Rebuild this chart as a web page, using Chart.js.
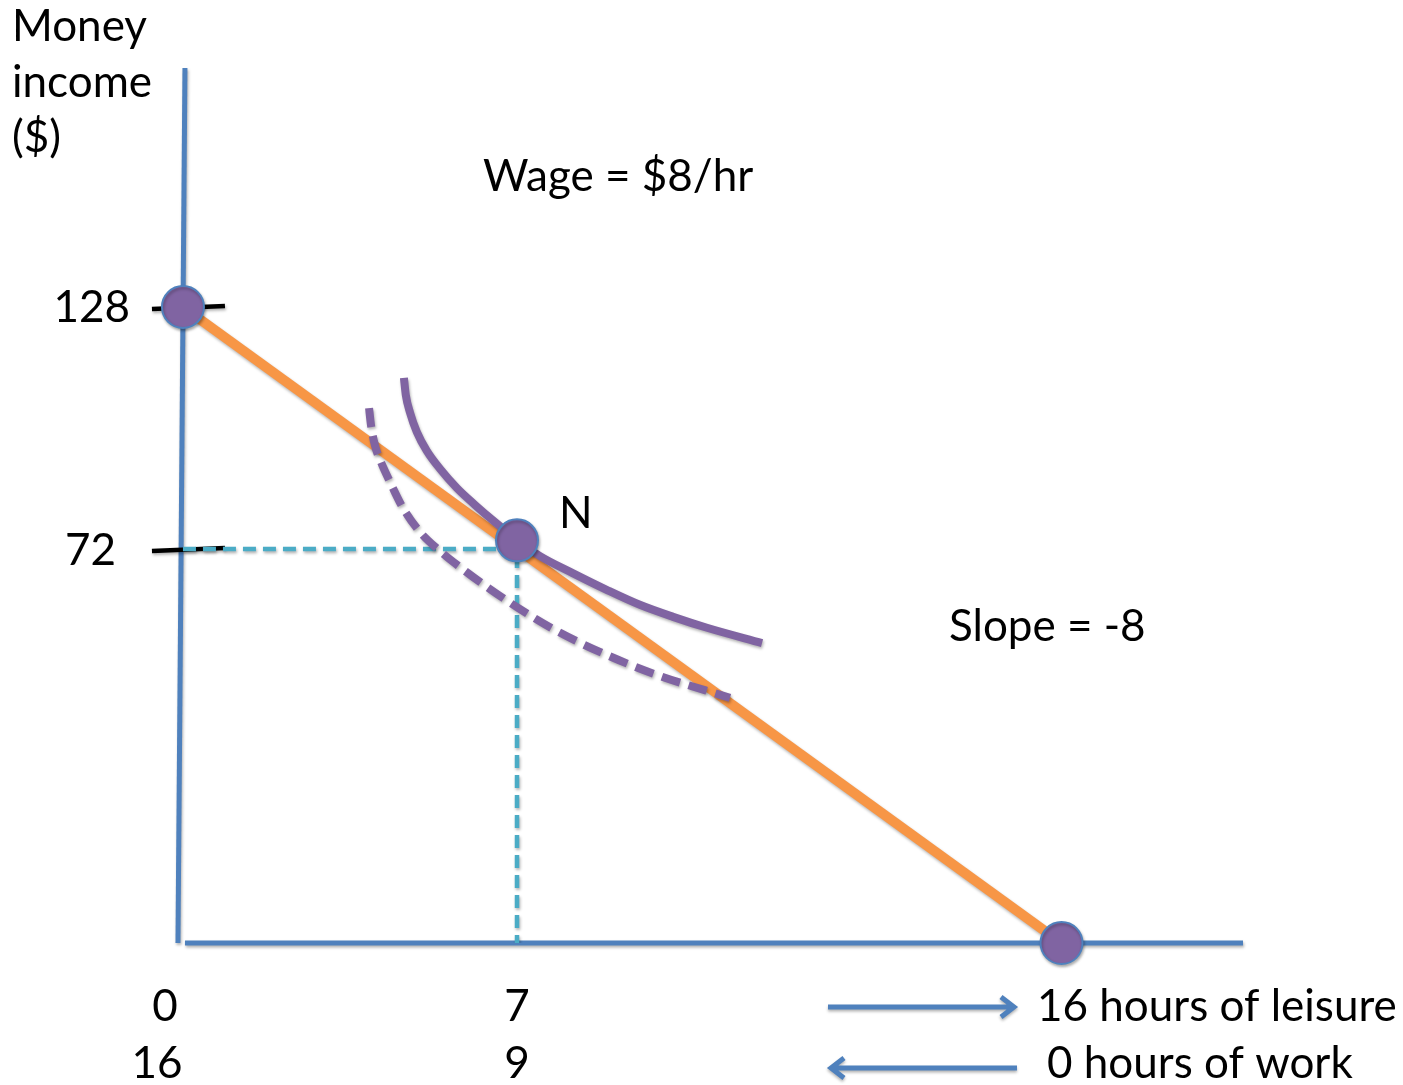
<!DOCTYPE html>
<html>
<head>
<meta charset="utf-8">
<script src="https://cdn.jsdelivr.net/npm/chart.js@4.4.1/dist/chart.umd.min.js"></script>
<style>
  html, body { margin: 0; padding: 0; background: #fff; }
  #wrap { width: 1403px; height: 1085px; position: relative; }
</style>
</head>
<body>
<div id="wrap"><canvas id="chart"></canvas></div>
<script>
// x = hours of leisure, y = money income ($)
const budgetLeisure = [0, 16];
const budgetIncome = [128, 0];

const dotLeisure = [0, 7, 16];
const dotIncome = [128, 74, 0];

const optimumLeisure = 7;
const optimumIncome = 72;

const highCurveLeisure = [4.63, 4.67, 4.76, 4.90, 5.11, 5.39, 5.74, 6.12, 6.54, 7.00, 7.38, 7.92, 8.49, 9.03, 9.58, 10.14, 11.05];
const highCurveIncome = [111.6, 107.6, 103.5, 99.1, 94.7, 90.5, 86.1, 82.2, 78.2, 74.1, 70.7, 67.6, 64.5, 61.8, 59.6, 57.6, 54.8];

const lowCurveLeisure = [3.90, 3.94, 4.02, 4.15, 4.34, 4.61, 4.97, 5.39, 5.91, 6.43, 7.05, 7.66, 8.49, 9.31, 10.52];
const lowCurveIncome = [104.6, 100.7, 96.1, 92.1, 87.5, 81.5, 75.9, 71.6, 68.0, 64.7, 61.0, 57.0, 52.6, 49.0, 44.8];

const leisureTicks = [0, 7];
const workTicks = [16, 9];
const incomeTicks = [128, 72];

// the sketch is not drawn to scale, so each axis is stretched piecewise
const axisKnots = {
    x: [[-0.9, 0], [7, 0.3418], [19, 1]],
    y: [[0, 0], [72, 0.4503], [183.3, 1]]
};

class PiecewiseScale extends Chart.LinearScale {
    fraction(value) {
        const k = axisKnots[this.id];
        let i = 0;
        while (i < k.length - 2 && value > k[i + 1][0]) i++;
        const a = k[i], b = k[i + 1];
        return a[1] + (value - a[0]) / (b[0] - a[0]) * (b[1] - a[1]);
    }
    getPixelForValue(value) {
        const f = this.fraction(value);
        return this.isHorizontal() ? this.left + f * this.width : this.bottom - f * this.height;
    }
    getValueForPixel(pixel) {
        const k = axisKnots[this.id];
        const f = this.isHorizontal() ? (pixel - this.left) / this.width : (this.bottom - pixel) / this.height;
        let i = 0;
        while (i < k.length - 2 && f > k[i + 1][1]) i++;
        const a = k[i], b = k[i + 1];
        return a[0] + (f - a[1]) / (b[1] - a[1]) * (b[0] - a[0]);
    }
}
PiecewiseScale.id = 'piecewise';
PiecewiseScale.defaults = Chart.LinearScale.defaults;
Chart.register(PiecewiseScale);

const toPoints = (xs, ys) => xs.map((x, i) => ({ x: x, y: ys[i] }));

const FONT = 'Lato, "Open Sans", sans-serif';
const BLUE = '#4F81BD';

function arrow(ctx, x1, x2, y) {
    const dir = Math.sign(x2 - x1);
    ctx.beginPath();
    ctx.moveTo(x1, y);
    ctx.lineTo(x2, y);
    ctx.moveTo(x2 - dir * 13, y - 10);
    ctx.lineTo(x2, y);
    ctx.lineTo(x2 - dir * 13, y + 10);
    ctx.stroke();
}

const sketchParts = {
    id: 'sketchParts',
    beforeDatasetsDraw(chart) {
        const ctx = chart.ctx;
        const xs = chart.scales.x, ys = chart.scales.y;
        const area = chart.chartArea;
        const x0 = xs.getPixelForValue(0);
        const y0 = ys.getPixelForValue(0);
        ctx.save();
        ctx.shadowColor = 'rgba(0,0,0,0.3)';
        ctx.shadowBlur = 3;
        ctx.shadowOffsetX = 1;
        ctx.shadowOffsetY = 2;
        ctx.strokeStyle = BLUE;
        ctx.lineWidth = 5;
        ctx.beginPath();
        ctx.moveTo(x0 + 2, area.top);
        ctx.lineTo(x0 - 5, y0);
        ctx.stroke();
        ctx.beginPath();
        ctx.moveTo(x0 + 2, y0);
        ctx.lineTo(area.right, y0);
        ctx.stroke();
        // small black marks on the income axis
        ctx.strokeStyle = '#000';
        ctx.lineWidth = 4.5;
        incomeTicks.forEach(v => {
            const y = ys.getPixelForValue(v);
            ctx.beginPath();
            ctx.moveTo(x0 - 31, y + 2);
            ctx.lineTo(x0 + 42, y - 1);
            ctx.stroke();
        });
        ctx.restore();
    },
    afterDatasetsDraw(chart) {
        const ctx = chart.ctx;
        const xs = chart.scales.x, ys = chart.scales.y;
        ctx.save();
        ctx.fillStyle = '#000';
        ctx.font = '44px ' + FONT;
        ctx.textAlign = 'left';
        ctx.fillText('Money', 12, 41);
        ctx.fillText('income', 12, 97);
        ctx.fillText('($)', 12, 152);
        ctx.fillText('Wage = $8/hr', 483, 191);
        ctx.fillText('N', 559, 528);
        ctx.fillText('Slope = -8', 949, 641);
        ctx.fillText('16 hours of leisure', 1037, 1021);
        ctx.fillText('0 hours of work', 1047, 1078);

        ctx.textAlign = 'right';
        ctx.fillText(String(incomeTicks[0]), 130, ys.getPixelForValue(incomeTicks[0]) + 15);
        ctx.fillText(String(incomeTicks[1]), 116, ys.getPixelForValue(incomeTicks[1]) + 16);

        ctx.textAlign = 'center';
        leisureTicks.forEach((v, i) => {
            const px = xs.getPixelForValue(v) + (v === 0 ? -18 : 0);
            ctx.fillText(String(v), px, 1021);
            ctx.fillText(String(workTicks[i]), px - (v === 0 ? 8 : 0), 1078);
        });

        ctx.shadowColor = 'rgba(0,0,0,0.3)';
        ctx.shadowBlur = 3;
        ctx.shadowOffsetY = 2;
        ctx.strokeStyle = BLUE;
        ctx.lineWidth = 5;
        arrow(ctx, 828, 1014, 1007);
        arrow(ctx, 1017, 831, 1068);
        ctx.restore();
    }
};

const shadowLines = {
    id: 'shadowLines',
    beforeDatasetDraw(chart) {
        const ctx = chart.ctx;
        ctx.save();
        ctx.shadowColor = 'rgba(0,0,0,0.3)';
        ctx.shadowBlur = 3;
        ctx.shadowOffsetX = 1;
        ctx.shadowOffsetY = 2;
    },
    afterDatasetDraw(chart) {
        chart.ctx.restore();
    }
};

new Chart(document.getElementById('chart'), {
    type: 'scatter',
    data: {
        datasets: [
            {
                label: 'Points',
                data: toPoints(dotLeisure, dotIncome),
                pointRadius: 21,
                pointBackgroundColor: '#8064A2',
                pointBorderColor: BLUE,
                pointBorderWidth: 2,
                showLine: false,
                clip: false,
                order: 0
            },
            {
                label: 'Indifference curve',
                data: toPoints(highCurveLeisure, highCurveIncome),
                showLine: true,
                borderColor: '#8064A2',
                borderWidth: 8,
                cubicInterpolationMode: 'monotone',
                pointRadius: 0,
                order: 1
            },
            {
                label: 'Lower indifference curve',
                data: toPoints(lowCurveLeisure, lowCurveIncome),
                showLine: true,
                borderColor: '#8064A2',
                borderWidth: 8,
                borderDash: [19, 9],
                cubicInterpolationMode: 'monotone',
                pointRadius: 0,
                order: 2
            },
            {
                label: 'Budget line',
                data: toPoints(budgetLeisure, budgetIncome),
                showLine: true,
                borderColor: '#F79646',
                borderWidth: 10,
                pointRadius: 0,
                order: 3
            },
            {
                label: 'Optimum guides',
                data: [
                    { x: 0, y: optimumIncome },
                    { x: optimumLeisure, y: optimumIncome },
                    { x: optimumLeisure, y: 0 }
                ],
                showLine: true,
                borderColor: '#4BACC6',
                borderWidth: 4.5,
                borderDash: [13, 7],
                pointRadius: 0,
                order: 4
            }
        ]
    },
    options: {
        responsive: true,
        maintainAspectRatio: false,
        animation: false,
        events: [],
        layout: { padding: { left: 140, right: 160, top: 68, bottom: 142 } },
        plugins: { legend: { display: false }, tooltip: { enabled: false } },
        scales: {
            x: { type: 'piecewise', display: false, min: axisKnots.x[0][0], max: axisKnots.x[2][0] },
            y: { type: 'piecewise', display: false, min: axisKnots.y[0][0], max: axisKnots.y[2][0] }
        }
    },
    plugins: [sketchParts, shadowLines]
});
</script>
</body>
</html>
